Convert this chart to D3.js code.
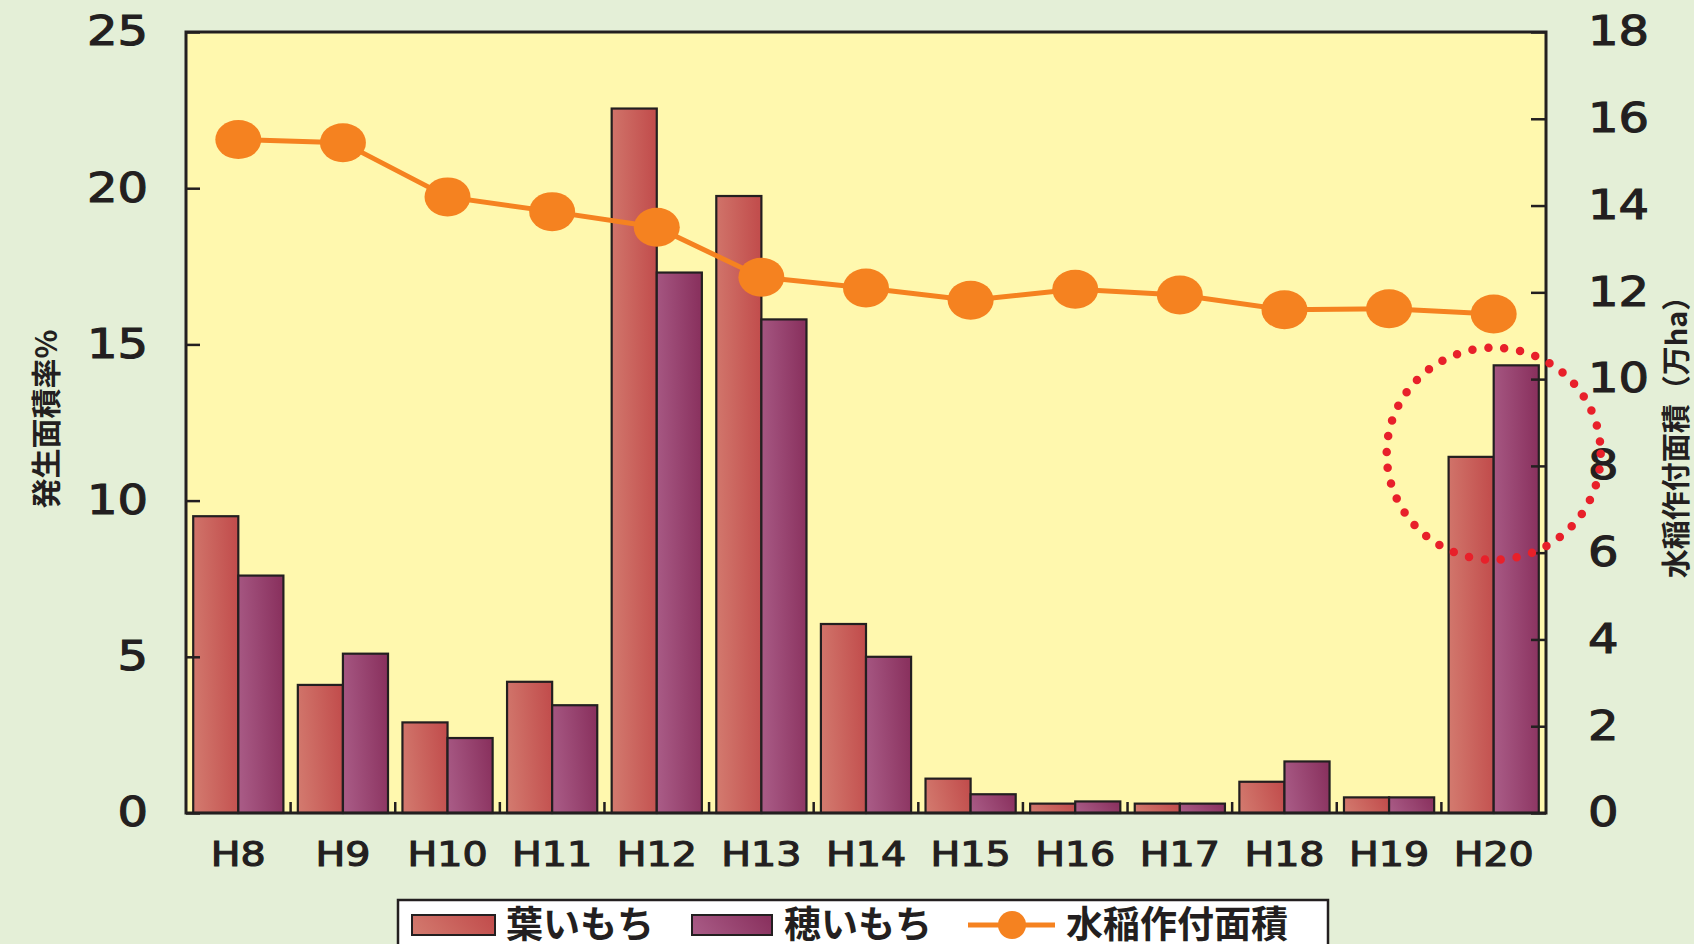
<!DOCTYPE html>
<html>
<head>
<meta charset="utf-8">
<script src="https://cdn.jsdelivr.net/npm/d3@7"></script>
<style>
	html, body { margin: 0; padding: 0; background: #e4efd7; overflow: hidden; }
	svg { display: block; }
</style>
</head>
<body>
<div id="chart"></div>
<script>
// data
var years = ["H8", "H9", "H10", "H11", "H12", "H13", "H14", "H15", "H16", "H17", "H18", "H19", "H20"];
var leafBlast = [9.5, 4.1, 2.9, 4.2, 22.55, 19.75, 6.05, 1.1, 0.3, 0.3, 1.0, 0.5, 11.4];
var panicleBlast = [7.6, 5.1, 2.4, 3.45, 17.3, 15.8, 5.0, 0.6, 0.37, 0.3, 1.65, 0.5, 14.33];
var riceArea = [15.52, 15.45, 14.2, 13.86, 13.5, 12.35, 12.1, 11.82, 12.07, 11.94, 11.6, 11.62, 11.5];
var leftTicks = [0, 5, 10, 15, 20, 25];
var rightTicks = [0, 2, 4, 6, 8, 10, 12, 14, 16, 18];
var seriesNames = ["葉いもち", "穂いもち", "水稲作付面積"];
var leftTitle = "発生面積率%";
var rightTitle = "水稲作付面積（万ha）";

(function () {
	var W = 1694, H = 944;
	var margin = {top: 32, right: 148, bottom: 131, left: 186},
		width = W - margin.left - margin.right,
		height = H - margin.top - margin.bottom;

	var svg = d3.select("#chart").append("svg")
		.attr("width", W)
		.attr("height", H);

	var defs = svg.append("defs");
	function grad(id, c0, c1) {
		var g = defs.append("linearGradient").attr("id", id)
			.attr("x1", 0).attr("y1", 0.6).attr("x2", 1).attr("y2", 0.4);
		g.append("stop").attr("offset", "0%").attr("stop-color", c0);
		g.append("stop").attr("offset", "100%").attr("stop-color", c1);
	}
	grad("gLeaf", "#d2786d", "#c24e4d");
	grad("gEar", "#a85a85", "#8a325f");

	var g = svg.append("g")
		.attr("transform", "translate(" + margin.left + "," + margin.top + ")");

	// scales
	var x0 = d3.scaleBand().domain(years).range([0, width]);
	var x1 = d3.scaleBand().domain([0, 1]).range([0, x0.bandwidth()]).paddingOuter(0.16);
	var yL = d3.scaleLinear().domain([0, 25]).range([height, 0]);
	var yR = d3.scaleLinear().domain([0, 18]).range([height, 0]);

	// plot background
	g.append("rect")
		.attr("width", width).attr("height", height)
		.attr("fill", "#fff8ae");

	// bars
	var rows = years.map(function (y, i) { return {year: y, vals: [leafBlast[i], panicleBlast[i]]}; });
	var grp = g.selectAll(".yr").data(rows).enter().append("g")
		.attr("transform", function (d) { return "translate(" + x0(d.year) + ",0)"; });
	grp.selectAll("rect").data(function (d) { return d.vals; }).enter().append("rect")
		.attr("x", function (d, i) { return x1(i); })
		.attr("width", x1.bandwidth())
		.attr("y", function (d) { return yL(d); })
		.attr("height", function (d) { return height - yL(d); })
		.attr("fill", function (d, i) { return i === 0 ? "url(#gLeaf)" : "url(#gEar)"; })
		.attr("stroke", "#231f20")
		.attr("stroke-width", 2.2);

	// frame
	g.append("rect")
		.attr("width", width).attr("height", height)
		.attr("fill", "none")
		.attr("stroke", "#231f20")
		.attr("stroke-width", 3);

	var sx = 1.2; // digits in the original are wider
	function styleTicks(sel, size) {
		sel.attr("font-family", "DejaVu Sans")
			.attr("font-size", size)
			.attr("fill", "#231f20")
			.attr("stroke", "#231f20")
			.attr("stroke-width", 1.1);
	}
	// left axis
	var axL = g.append("g")
		.call(d3.axisLeft(yL).tickValues(leftTicks).tickSize(-14).tickPadding(0));
	axL.select(".domain").remove();
	axL.selectAll("line").attr("stroke", "#231f20").attr("stroke-width", 2.5);
	axL.selectAll("text")
		.attr("x", -38 / sx)
		.attr("transform", "scale(" + sx + ",1)")
		.call(styleTicks, 40);

	// right axis
	var axR = g.append("g")
		.attr("transform", "translate(" + width + ",0)")
		.call(d3.axisRight(yR).tickValues(rightTicks).tickSize(-15).tickPadding(0));
	axR.select(".domain").remove();
	axR.selectAll("line").attr("stroke", "#231f20").attr("stroke-width", 2.5);
	axR.selectAll("text")
		.attr("x", 42 / sx)
		.attr("transform", "scale(" + sx + ",1)")
		.call(styleTicks, 40);

	// bottom axis: labels at band centres, ticks at band boundaries
	var axB = g.append("g")
		.attr("transform", "translate(0," + height + ")")
		.call(d3.axisBottom(x0).tickSize(0).tickPadding(30));
	axB.select(".domain").remove();
	axB.selectAll("text")
		.attr("x", 0)
		.attr("transform", "scale(" + sx + ",1)")
		.call(styleTicks, 33);
	g.selectAll(".btick").data(years.slice(1)).enter().append("line")
		.attr("x1", function (d) { return x0(d); })
		.attr("x2", function (d) { return x0(d); })
		.attr("y1", height).attr("y2", height - 11)
		.attr("stroke", "#231f20").attr("stroke-width", 2.5);

	// rice area line
	var cx = function (i) { return x0(years[i]) + x0.bandwidth() / 2; };
	var line = d3.line()
		.x(function (d, i) { return cx(i); })
		.y(function (d) { return yR(d); });
	g.append("path")
		.datum(riceArea)
		.attr("d", line)
		.attr("fill", "none")
		.attr("stroke", "#f58220")
		.attr("stroke-width", 5);
	g.selectAll(".pt").data(riceArea).enter().append("ellipse")
		.attr("cx", function (d, i) { return cx(i); })
		.attr("cy", function (d) { return yR(d); })
		.attr("rx", 23).attr("ry", 19.5)
		.attr("fill", "#f58220");

	// dotted highlight around H20
	g.append("ellipse")
		.attr("cx", cx(years.length - 1))
		.attr("cy", yL(11.5))
		.attr("rx", 107).attr("ry", 106)
		.attr("fill", "none")
		.attr("stroke", "#e8202a")
		.attr("stroke-width", 8.5)
		.attr("stroke-linecap", "round")
		.attr("stroke-dasharray", "0 16");

	// axis titles
	svg.append("text")
		.attr("transform", "translate(44,419) rotate(-90)")
		.attr("text-anchor", "middle")
		.attr("dominant-baseline", "central")
		.attr("font-family", "Noto Sans CJK JP")
		.attr("font-weight", "bold")
		.attr("font-size", 30)
		.attr("fill", "#231f20")
		.text(leftTitle);
	svg.append("text")
		.attr("transform", "translate(1674,430) rotate(-90)")
		.attr("text-anchor", "middle")
		.attr("dominant-baseline", "central")
		.attr("font-family", "Noto Sans CJK JP")
		.attr("font-weight", "bold")
		.attr("font-size", 29)
		.attr("fill", "#231f20")
		.text(rightTitle);

	// legend (box runs off the bottom edge, as in the original)
	var lg = svg.append("g").attr("transform", "translate(398,900)");
	lg.append("rect")
		.attr("width", 930).attr("height", 70)
		.attr("fill", "#ffffff")
		.attr("stroke", "#231f20")
		.attr("stroke-width", 2.5);
	var ly = 25;
	lg.append("rect").attr("x", 14).attr("y", ly - 10).attr("width", 83).attr("height", 20)
		.attr("fill", "url(#gLeaf)").attr("stroke", "#231f20").attr("stroke-width", 2);
	lg.append("rect").attr("x", 294).attr("y", ly - 10).attr("width", 80).attr("height", 20)
		.attr("fill", "url(#gEar)").attr("stroke", "#231f20").attr("stroke-width", 2);
	lg.append("line").attr("x1", 570).attr("x2", 657).attr("y1", ly).attr("y2", ly)
		.attr("stroke", "#f58220").attr("stroke-width", 5);
	lg.append("ellipse").attr("cx", 614).attr("cy", ly).attr("rx", 14).attr("ry", 14)
		.attr("fill", "#f58220");
	var lx = [108, 386, 668];
	lg.selectAll(".lt").data(seriesNames).enter().append("text")
		.attr("x", function (d, i) { return lx[i]; })
		.attr("y", ly - 3)
		.attr("dominant-baseline", "central")
		.attr("font-family", "Noto Sans CJK JP")
		.attr("font-weight", "bold")
		.attr("font-size", 37)
		.attr("fill", "#231f20")
		.text(function (d) { return d; });
})();
</script>
</body>
</html>
